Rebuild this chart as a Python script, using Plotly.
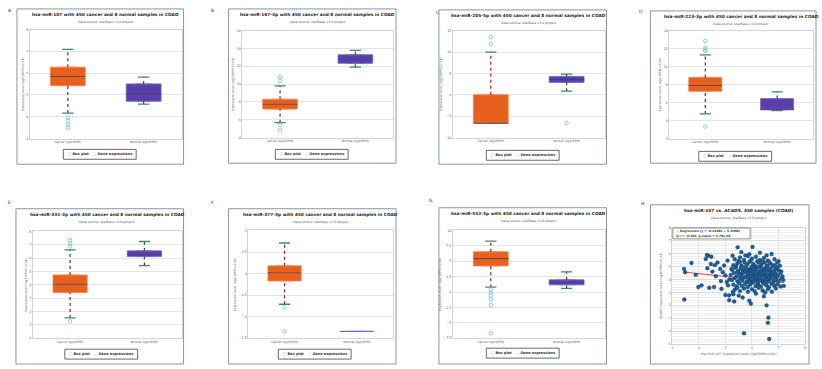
import plotly.graph_objects as go

# ---------------- data ----------------
panel_letters = ["A", "B", "C", "D", "E", "F", "G", "H"]
mirnas = ["hsa-miR-107", "hsa-miR-197-3p", "hsa-miR-205-5p", "hsa-miR-223-3p",
          "hsa-miR-331-3p", "hsa-miR-377-3p", "hsa-miR-552-3p"]
group_labels = ["Cancer log2(RPM)", "Normal log2(RPM)"]
n_cancer = 450
n_normal = 8
cancer_type = "COAD"
data_source = "Data source: starBase v3.0 project"
y_title = "Expression level: log2 (RPM+0.01)"

# cancer group box statistics
cancer_low = [4.17, 5.67, -6.64, 4.74, 1.53, -0.71, 0.80]
cancer_q1 = [5.43, 7.19, -6.64, 7.26, 3.43, -0.17, 4.25]
cancer_median = [5.85, 7.74, -6.64, 7.90, 4.05, 0.02, 5.43]
cancer_q3 = [6.28, 8.30, 0.00, 8.80, 4.74, 0.18, 6.55]
cancer_high = [7.10, 9.80, 10.00, 11.30, 6.63, 0.71, 8.26]
cancer_outliers = [[3.97, 3.82, 3.63, 3.50],
                   [10.37, 10.80, 5.37, 4.80],
                   [11.90, 13.50],
                   [11.75, 11.90, 12.10, 12.85, 3.33],
                   [6.88, 7.10, 7.35, 1.27],
                   [-0.78, -1.34],
                   [0.43, -0.10, -0.60, -1.20, -2.10, -6.70]]

# normal group box statistics
normal_low = [4.58, 11.90, 0.85, 5.10, 5.45, -1.34, 0.60]
normal_q1 = [4.71, 12.33, 2.90, 5.19, 6.12, -1.34, 1.18]
normal_median = [5.05, 12.80, 3.60, 5.25, 6.30, -1.34, 1.60]
normal_q3 = [5.51, 13.30, 4.30, 6.44, 6.55, -1.34, 2.00]
normal_high = [5.82, 13.80, 4.85, 7.20, 7.25, -1.34, 3.30]
normal_outliers = [[], [], [-6.64], [], [], [], []]

y_ranges = [[3, 8], [4, 16], [-10, 15], [2, 14], [0, 8], [-1.5, 1], [-7.5, 10]]
y_dticks = [1, 2, 5, 2, 1, 0.5, 2.5]

# panel H: hsa-miR-107 vs ACADS
scatter_gene = "ACADS"
mir107_expr = [
    3.44, 3.48, 3.45, 3.72, 3.88, 3.98, 4.10, 4.26, 4.36, 4.47, 4.32, 4.45, 4.51, 4.39, 4.57, 4.64, 4.80, 4.83,
    4.85, 4.95, 5.00, 5.08, 5.10, 5.14, 5.23, 5.27, 5.28, 4.30, 5.14, 5.00, 4.70, 4.90, 5.15, 4.60, 5.05,
    5.46, 6.02, 6.74, 5.90, 6.30, 5.60,
    5.35, 5.55, 5.70, 5.85, 6.00, 6.15, 6.30, 6.45, 6.60, 6.85, 7.00, 5.95, 6.20, 5.50, 6.55, 5.75,
    5.30, 5.45, 5.60, 5.72, 5.82, 5.90, 6.05, 6.12, 6.25, 6.35, 6.48, 6.58, 6.70, 6.82, 6.95, 7.05, 5.55, 6.00,
    6.40, 6.90, 5.40, 6.65,
    5.25, 5.38, 5.48, 5.58, 5.66, 5.75, 5.84, 5.92, 6.00, 6.08, 6.16, 6.24, 6.32, 6.40, 6.50, 6.58, 6.66, 6.76,
    6.85, 6.95, 7.10, 5.62, 5.95, 6.20, 6.45, 6.70, 7.00, 5.80, 6.10, 6.35, 6.55,
    5.20, 5.32, 5.42, 5.52, 5.60, 5.70, 5.78, 5.86, 5.94, 6.02, 6.10, 6.18, 6.26, 6.34, 6.42, 6.50, 6.58, 6.66,
    6.74, 6.82, 6.90, 6.98, 7.08, 7.15, 5.65, 5.90, 6.05, 6.30, 6.55, 6.80, 5.45, 6.15, 6.45, 6.70, 5.85,
    5.25, 5.35, 5.45, 5.55, 5.64, 5.72, 5.80, 5.88, 5.96, 6.04, 6.12, 6.20, 6.28, 6.36, 6.44, 6.52, 6.60, 6.68,
    6.76, 6.84, 6.92, 7.00, 7.10, 5.60, 5.92, 6.16, 6.40, 6.64, 6.88, 7.18, 6.00, 6.30, 6.55,
    5.30, 5.42, 5.52, 5.62, 5.74, 5.84, 5.94, 6.04, 6.14, 6.24, 6.34, 6.44, 6.54, 6.64, 6.74, 6.84, 6.96, 7.08,
    7.20, 5.90, 6.20, 6.50, 6.80,
    5.35, 5.55, 5.70, 5.85, 6.00, 6.10, 6.25, 6.40, 6.60, 6.75, 6.90, 5.45, 6.50,
    5.30, 5.50, 5.65, 5.90, 6.15, 6.45,
    5.33, 5.96, 6.55, 6.62, 6.60, 5.70, 6.65,
]
acads_expr = [
    4.81, 4.56, 2.45, 5.27, 4.35, 3.41, 3.54, 5.58, 5.83, 5.75, 4.86, 5.19, 4.60, 3.36, 3.41, 4.25, 4.81, 3.87,
    3.28, 5.07, 4.30, 5.45, 3.54, 2.77, 4.81, 5.83, 3.03, 5.88, 2.40, 2.80, 5.30, 4.55, 4.00, 5.10, 3.80,
    6.47, 6.50, 5.96, 5.95, 6.05, 6.10,
    5.55, 5.70, 5.50, 5.80, 5.60, 5.75, 5.50, 5.65, 5.45, 5.55, 5.40, 5.45, 5.40, 5.42, 5.85, 5.85,
    5.10, 5.25, 5.05, 5.30, 5.15, 5.35, 5.20, 5.02, 5.30, 5.12, 5.28, 5.05, 5.22, 5.10, 5.30, 5.05, 5.35, 5.00,
    5.38, 5.00, 5.00, 5.35,
    4.75, 4.90, 4.65, 4.85, 4.70, 4.95, 4.62, 4.80, 4.92, 4.68, 4.85, 4.62, 4.95, 4.72, 4.88, 4.66, 4.80, 4.95,
    4.70, 4.85, 4.62, 4.98, 4.66, 4.98, 4.60, 4.62, 4.70, 4.78, 4.75, 4.82, 4.98,
    4.35, 4.50, 4.25, 4.45, 4.30, 4.55, 4.22, 4.40, 4.58, 4.30, 4.48, 4.22, 4.42, 4.56, 4.28, 4.46, 4.20, 4.38,
    4.52, 4.26, 4.44, 4.30, 4.50, 4.22, 4.50, 4.25, 4.55, 4.30, 4.35, 4.58, 4.58, 4.35, 4.52, 4.25, 4.50,
    3.95, 4.10, 3.85, 4.05, 3.90, 4.15, 3.82, 4.00, 4.18, 3.88, 4.06, 3.84, 4.00, 4.16, 3.90, 4.08, 3.82, 4.02,
    4.18, 3.92, 4.10, 3.86, 4.05, 4.18, 3.86, 4.18, 3.82, 4.15, 4.00, 3.95, 4.05, 3.92, 4.00,
    3.60, 3.45, 3.70, 3.50, 3.65, 3.42, 3.60, 3.75, 3.48, 3.62, 3.44, 3.70, 3.55, 3.40, 3.66, 3.50, 3.62, 3.45,
    3.50, 3.78, 3.78, 3.78, 3.75,
    3.20, 3.10, 3.30, 3.05, 3.25, 3.10, 3.35, 3.15, 3.25, 3.05, 3.30, 3.35, 3.00,
    2.85, 2.75, 2.60, 2.35, 2.90, 2.70,
    2.30, 2.13, 2.00, 1.05, 0.65, -0.15, -0.60,
]
reg_slope = -0.2168
reg_intercept = 5.3098
pearson_r = -0.104
p_value_text = "2.79e-02"
scatter_x_range = [3, 8]
scatter_y_range = [-1, 8]

# ---------------- layout geometry (pixels) ----------------
W, H = 822, 369
FONT = "DejaVu Sans"
frames_px = [(16, 7, 183, 164), (228, 7, 396, 163), (439, 8, 607, 164), (651, 9, 817, 163),
             (15, 209, 183, 366), (228, 209, 396, 366), (439, 208, 607, 366), (651, 205, 810, 366)]
plots_px = [(29, 28, 181, 138), (242, 29, 393, 137), (453, 29, 605, 137), (670, 29, 814, 138),
            (32, 232, 181, 340), (248, 231, 393, 340), (453, 231, 605, 340), (673, 228, 806, 346)]
letters_px = [(5, 4), (209, 4), (434, 6), (638, 5), (5, 198), (209, 198), (427, 196), (640, 199)]

BOX_W = 0.46
CANCER_FILL, CANCER_EDGE, CANCER_MED, CANCER_WHISK = "#e8601e", "#f0844a", "#6a4a3c", "#8b2020"
NORMAL_FILL, NORMAL_EDGE, NORMAL_MED, NORMAL_WHISK = "#5a3fa8", "#6f68c4", "#47358f", "#2d4f3a"
CAP_COLOR = "#3b8a66"
OUTLIER_COLOR = "#6fc3cf"


def fx(p):
    return p / W


def fy(p):
    return 1 - p / H


def axn(k, c):
    return c if k == 1 else f"{c}{k}"


fig = go.Figure()
layout = {}
annotations = []
shapes = []

for i in range(8):
    k = i + 1
    fl, ft, fr, fb = frames_px[i]
    pl, pt, pr, pb = plots_px[i]
    shapes.append(dict(type="rect", xref="paper", yref="paper", x0=fx(fl), x1=fx(fr),
                       y0=fy(fb), y1=fy(ft), line=dict(color="#8796a8", width=1),
                       fillcolor="rgba(0,0,0,0)", layer="below"))
    lx, ly = letters_px[i]
    annotations.append(dict(text=panel_letters[i], x=fx(lx), y=fy(ly), xref="paper", yref="paper",
                            xanchor="left", yanchor="top", showarrow=False,
                            font=dict(size=4.5, family=FONT, color="#333")))
    cx = (pl + pr) / 2
    if i < 7:
        title = f"{mirnas[i]} with {n_cancer} cancer and {n_normal} normal samples in {cancer_type}"
    else:
        title = f"{mirnas[0]} vs. {scatter_gene}, {n_cancer} samples ({cancer_type})"
    annotations.append(dict(text=f"<b>{title}</b>", x=fx(cx), y=fy(ft + 6), xref="paper", yref="paper",
                            xanchor="center", yanchor="middle", showarrow=False,
                            font=dict(size=4.3, family=FONT, color="#222")))
    annotations.append(dict(text=data_source, x=fx(cx), y=fy(ft + 13), xref="paper", yref="paper",
                            xanchor="center", yanchor="middle", showarrow=False,
                            font=dict(size=3.2, family=FONT, color="#555")))

# ---------------- box panels ----------------
for i in range(7):
    k = i + 1
    xr, yr = axn(k, "x"), axn(k, "y")
    pl, pt, pr, pb = plots_px[i]
    fl, ft, fr, fb = frames_px[i]
    layout["xaxis" if k == 1 else f"xaxis{k}"] = dict(
        domain=[fx(pl), fx(pr)], anchor=yr, range=[-0.5, 1.5], tickvals=[0, 1], ticktext=group_labels,
        showgrid=False, zeroline=False, showline=True, mirror=True, linecolor="#d4d4d4", linewidth=0.6,
        ticks="", tickfont=dict(size=3, family=FONT, color="#555"), fixedrange=True)
    layout["yaxis" if k == 1 else f"yaxis{k}"] = dict(
        domain=[fy(pb), fy(pt)], anchor=xr, range=y_ranges[i], dtick=y_dticks[i],
        showgrid=True, gridcolor="#e4e4e4", gridwidth=0.6, zeroline=False, showline=True, mirror=True,
        linecolor="#d4d4d4", linewidth=0.6, ticks="", tickfont=dict(size=3.3, family=FONT, color="#555"),
        title=dict(text=y_title, font=dict(size=3.1, family=FONT, color="#555"), standoff=2))

    groups = [
        (cancer_low[i], cancer_q1[i], cancer_median[i], cancer_q3[i], cancer_high[i], cancer_outliers[i],
         CANCER_FILL, CANCER_EDGE, CANCER_MED, CANCER_WHISK),
        (normal_low[i], normal_q1[i], normal_median[i], normal_q3[i], normal_high[i], normal_outliers[i],
         NORMAL_FILL, NORMAL_EDGE, NORMAL_MED, NORMAL_WHISK),
    ]
    for g, (lo, q1, med, q3, hi, outl, fill, edge, medc, whc) in enumerate(groups):
        fig.add_trace(go.Box(x=[g], q1=[q1], median=[med], q3=[q3], lowerfence=[q1], upperfence=[q3],
                             width=BOX_W, fillcolor=fill, line=dict(color=edge, width=0.8),
                             boxpoints=False, xaxis=xr, yaxis=yr, showlegend=False, hoverinfo="skip"))
        if q1 != q3:
            fig.add_trace(go.Scatter(x=[g - BOX_W / 2, g + BOX_W / 2], y=[med, med], mode="lines",
                                     line=dict(color=medc, width=1.1), xaxis=xr, yaxis=yr,
                                     showlegend=False, hoverinfo="skip"))
        if hi > q3:
            fig.add_trace(go.Scatter(x=[g, g], y=[q3, hi], mode="lines",
                                     line=dict(color=whc, width=1.2, dash="dot"), xaxis=xr, yaxis=yr,
                                     showlegend=False, hoverinfo="skip"))
        if lo < q1:
            fig.add_trace(go.Scatter(x=[g, g], y=[lo, q1], mode="lines",
                                     line=dict(color=whc, width=1.2, dash="dot"), xaxis=xr, yaxis=yr,
                                     showlegend=False, hoverinfo="skip"))
        caps = [v for v in (lo, hi) if v < q1 or v > q3]
        if caps:
            fig.add_trace(go.Scatter(x=[g] * len(caps), y=caps, mode="markers",
                                     marker=dict(symbol="line-ew", size=8, color=CAP_COLOR,
                                                 line=dict(width=1.3, color=CAP_COLOR)),
                                     xaxis=xr, yaxis=yr, showlegend=False, hoverinfo="skip"))
        if outl:
            fig.add_trace(go.Scatter(x=[g] * len(outl), y=outl, mode="markers",
                                     marker=dict(symbol="circle-open", size=3.6, color=OUTLIER_COLOR,
                                                 line=dict(width=0.8, color=OUTLIER_COLOR)),
                                     xaxis=xr, yaxis=yr, showlegend=False, hoverinfo="skip"))
    # manual legend box
    lcx = (pl + pr) / 2 - 6
    shapes.append(dict(type="rect", xref="paper", yref="paper", x0=fx(lcx - 36.5), x1=fx(lcx + 36.5),
                       y0=fy(ft + 152), y1=fy(ft + 142), line=dict(color="#444", width=0.8),
                       fillcolor="white"))
    annotations.append(dict(
        text="<span style='color:#999'>□</span> <b>Box plot</b>    "
             "<span style='color:#6fc3cf'>○</span> <b>Gene expressions</b>",
        x=fx(lcx), y=fy(ft + 147), xref="paper", yref="paper", xanchor="center", yanchor="middle",
        showarrow=False, font=dict(size=3.5, family=FONT, color="#333")))

# ---------------- scatter panel H ----------------
k = 8
xr, yr = axn(k, "x"), axn(k, "y")
pl, pt, pr, pb = plots_px[7]
layout["xaxis8"] = dict(
    domain=[fx(pl), fx(pr)], anchor=yr, range=scatter_x_range, dtick=1, showgrid=True, gridcolor="#e4e4e4",
    gridwidth=0.6, zeroline=False, showline=True, mirror=True, linecolor="#d4d4d4", linewidth=0.6, ticks="",
    tickfont=dict(size=3.3, family=FONT, color="#555"),
    title=dict(text=f"{mirnas[0]}, Expression level: log2(RPM+0.01)",
               font=dict(size=3.2, family=FONT, color="#555"), standoff=3))
layout["yaxis8"] = dict(
    domain=[fy(pb), fy(pt)], anchor=xr, range=scatter_y_range, dtick=1, showgrid=True, gridcolor="#dcdcdc",
    gridwidth=0.6, zeroline=False, showline=True, mirror=True, linecolor="#d4d4d4", linewidth=0.6, ticks="",
    minor=dict(dtick=0.2, showgrid=True, gridcolor="#eeeeee", gridwidth=0.5),
    tickfont=dict(size=3.3, family=FONT, color="#555"),
    title=dict(text=f"{scatter_gene}, Expression level: log2(FPKM+0.01)",
               font=dict(size=3.1, family=FONT, color="#555"), standoff=3))

xmin, xmax = min(mir107_expr), max(mir107_expr)
fig.add_trace(go.Scatter(x=[xmin, xmax], y=[reg_slope * xmin + reg_intercept, reg_slope * xmax + reg_intercept],
                         mode="lines", line=dict(color="#d0352b", width=0.9), xaxis=xr, yaxis=yr,
                         showlegend=False, hoverinfo="skip"))
fig.add_trace(go.Scatter(x=mir107_expr, y=acads_expr, mode="markers",
                         marker=dict(color="#1f5f94", size=3.9, line=dict(width=0.3, color="#0d3050")),
                         xaxis=xr, yaxis=yr, showlegend=False, hoverinfo="skip"))
shapes.append(dict(type="rect", xref="paper", yref="paper", x0=fx(pl + 0.5), x1=fx(pl + 78),
                   y0=fy(pt + 11.5), y1=fy(pt + 0.5), line=dict(color="#444", width=0.6), fillcolor="white"))
annotations.append(dict(
    text=f"<span style='color:#d0352b'>—</span> <b>Regression (y = {reg_slope:.4f}x + {reg_intercept:.4f})</b>",
    x=fx(pl + 2), y=fy(pt + 3.5), xref="paper", yref="paper", xanchor="left", yanchor="middle",
    showarrow=False, font=dict(size=3, family=FONT, color="#333")))
annotations.append(dict(
    text=f"<span style='color:#2ca02c'>●</span> <b>r = {pearson_r}, p-value = {p_value_text}</b>",
    x=fx(pl + 2), y=fy(pt + 8.5), xref="paper", yref="paper", xanchor="left", yanchor="middle",
    showarrow=False, font=dict(size=3, family=FONT, color="#333")))

fig.update_layout(
    width=W, height=H, margin=dict(l=0, r=0, t=0, b=0), paper_bgcolor="white", plot_bgcolor="white",
    showlegend=False, annotations=annotations, shapes=shapes, font=dict(family=FONT), **layout)

fig.write_html("out.html", config={"displayModeBar": False},
               post_script="document.body.style.margin='0px';")
